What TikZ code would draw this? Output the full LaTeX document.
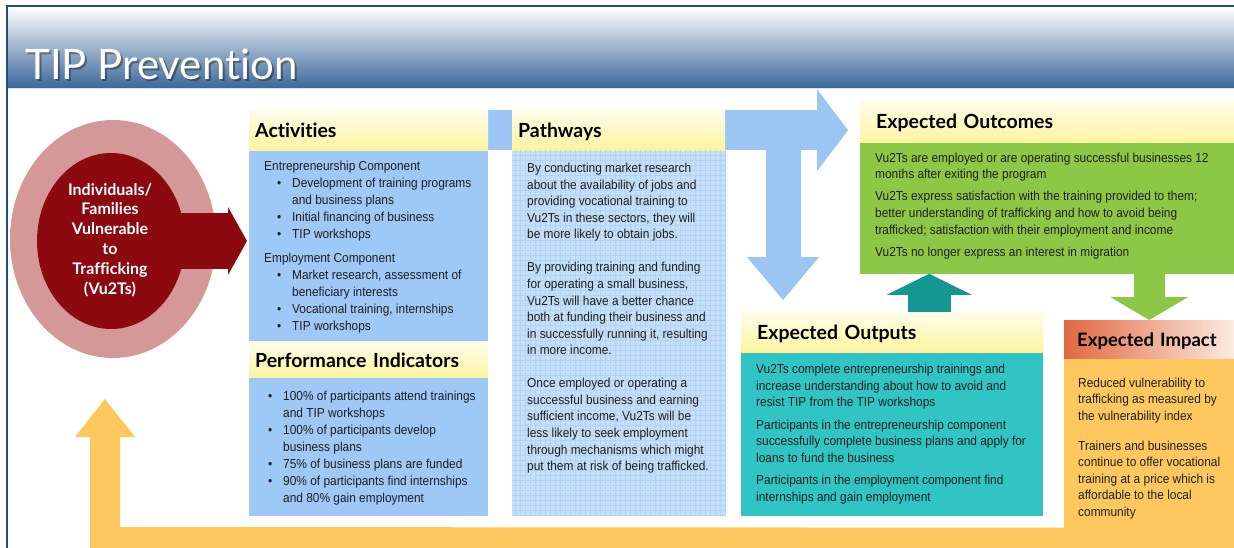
\documentclass[tikz,border=0pt]{standalone}
\usepackage{fontspec}
\usepackage{tikz}
\usetikzlibrary{arrows.meta,positioning,calc,shapes.geometric,backgrounds}

\setmainfont{Liberation Sans}
\newfontfamily\bodyfont[FakeStretch=0.915]{Liberation Sans}
\newfontfamily\headfont[Ligatures={NoCommon}]{Lato}

\definecolor{frameblue}{RGB}{31,77,138}
\definecolor{bandblue}{RGB}{60,104,153}
\definecolor{bandmid}{RGB}{200,208,220}
\definecolor{bandline}{RGB}{214,226,238}
\definecolor{boxblue}{RGB}{158,200,245}
\definecolor{pathblue}{RGB}{198,223,249}
\definecolor{gridblue}{RGB}{178,211,243}
\definecolor{arrowblue}{RGB}{155,198,244}
\definecolor{headyellow}{RGB}{253,244,160}
\definecolor{headlight}{RGB}{255,253,234}
\definecolor{outgreen}{RGB}{140,200,70}
\definecolor{outteal}{RGB}{48,196,196}
\definecolor{darkteal}{RGB}{20,150,145}
\definecolor{impyellow}{RGB}{255,200,95}
\definecolor{impred}{RGB}{224,104,64}
\definecolor{imppale}{RGB}{252,236,228}
\definecolor{ringpink}{RGB}{212,152,152}
\definecolor{vulred}{RGB}{140,10,15}

\newcommand\bitem[1]{\makebox[28pt][r]{\textbullet\hspace{11pt}}#1}
\newcommand\bcont[1]{\hspace*{28pt}#1}

\begin{document}
\begin{tikzpicture}[x=1pt, y=-1pt,
    head/.style={anchor=north west, inner ysep=0pt, align=left, text height=16pt, text depth=1pt,
        font=\headfont\bfseries\fontsize{19.5}{21}\selectfont, top color=headlight, bottom color=headyellow},
    panel/.style={anchor=north, inner sep=0pt, minimum width=#1},
    txt/.style={anchor=north west, inner sep=0pt, align=left, text=black!88,
        font=\bodyfont\fontsize{13}{#1}\selectfont, execute at begin node={\rule{0pt}{12pt}}},
    title/.style={anchor=base west, inner sep=0pt, font=\headfont\fontsize{42}{46}\selectfont},
    blockarrow/.style n args={3}{line width=#1, -{Triangle[length=#2,width=#3,line width=0pt]}}]
    \useasboundingbox (0,0) rectangle (1234,548);

    % title band
    \begin{scope}[on background layer]
        \fill[white] (0,0) rectangle (1234,548);
        \shade[top color=white, middle color=bandmid, bottom color=bandblue] (7,7) rectangle (1234,88);
        \draw[bandline, line width=1.5pt] (7,88.5) -- (1234,88.5);
    \end{scope}
    \draw[frameblue, line width=2.5pt] (7,548) -- (7,6) -- (1234,6);
    \node[title, text=black, opacity=0.35] (ttlshadow) at (27,82) {TIP Prevention};
    \node[title, text=white] (ttl) at (25,80) {TIP Prevention};

    % activities and indicators
    \node[head, text width=227pt, inner xsep=6pt, minimum height=40pt] (acth) at (249,110) {Activities};
    \node[panel=239pt, fill=boxblue, minimum height=190pt, below=0pt of acth] (actb) {};
    \node[head, text width=227pt, inner xsep=6pt, minimum height=37pt, below=0pt of actb] (perfh) {Performance Indicators};
    \node[panel=239pt, fill=boxblue, minimum height=138pt, below=0pt of perfh] (perfb) {};

    % pathways
    \node[head, text width=201pt, inner xsep=6pt, minimum height=40pt] (pathh) at (512,110) {Pathways};
    \node[panel=213pt, fill=pathblue, minimum height=365pt, below=0pt of pathh] (pathb) {};
    \draw[gridblue, line width=0.4pt] (pathb.south west) grid[step=5pt] (pathb.north east);

    % outcomes, outputs, impact
    \node[head, text width=342pt, inner xsep=16pt, minimum height=42pt] (outch) at (860,100) {Expected Outcomes};
    \node[panel=374pt, fill=outgreen, minimum height=131pt, below=0pt of outch] (outcb) {};
    \node[head, text width=270pt, inner xsep=16pt, minimum height=40pt] (outh) at (741,312) {Expected Outputs};
    \node[panel=302pt, fill=outteal, minimum height=163pt, below=0pt of outh] (outb) {};
    \node[head, text width=152pt, inner xsep=9pt, minimum height=38pt, font=\headfont\bfseries\fontsize{18.5}{20}\selectfont,
        left color=impred, right color=imppale] (imph) at (1064,320) {\hspace*{4pt}Expected Impact};
    \node[panel=170pt, fill=impyellow, minimum height=169pt, below=0pt of imph] (impb) {};

    % box texts
    \node[txt=17] (actt) at ([shift={(15,10)}]actb.north west) {Entrepreneurship Component\\
        \bitem{Development of training programs}\\ \bcont{and business plans}\\
        \bitem{Initial financing of business}\\ \bitem{TIP workshops}\\[7pt]
        Employment Component\\
        \bitem{Market research, assessment of}\\ \bcont{beneficiary interests}\\
        \bitem{Vocational training, internships}\\ \bitem{TIP workshops}};
    \node[txt=17] (perft) at ([shift={(6,12.5)}]perfb.north west) {\bitem{100\% of participants attend trainings}\\
        \bcont{and TIP workshops}\\ \bitem{100\% of participants develop}\\ \bcont{business plans}\\
        \bitem{75\% of business plans are funded}\\ \bitem{90\% of participants find internships}\\
        \bcont{and 80\% gain employment}};
    \node[txt=16.56] (patht) at ([shift={(15,12.5)}]pathb.north west) {By conducting market research\\
        about the availability of jobs and\\ providing vocational training to\\
        Vu2Ts in these sectors, they will\\ be more likely to obtain jobs.\\[16.56pt]
        By providing training and funding\\ for operating a small business,\\
        Vu2Ts will have a better chance\\ both at funding their business and\\
        in successfully running it, resulting\\ in more income.\\[16.56pt]
        Once employed or operating a\\ successful business and earning\\
        sufficient income, Vu2Ts will be\\ less likely to seek employment\\
        through mechanisms which might\\ put them at risk of being trafficked.};
    \node[txt=16.7] (outct) at ([shift={(15,10)}]outcb.north west) {Vu2Ts are employed or are operating successful businesses 12\\
        months after exiting the program\\[5.5pt]
        Vu2Ts express satisfaction with the training provided to them;\\
        better understanding of trafficking and how to avoid being\\
        trafficked; satisfaction with their employment and income\\[5.5pt]
        Vu2Ts no longer express an interest in migration};
    \node[txt=16.7] (outt) at ([shift={(15,11.5)}]outb.north west) {Vu2Ts complete entrepreneurship trainings and\\
        increase understanding about how to avoid and\\ resist TIP from the TIP workshops\\[5.5pt]
        Participants in the entrepreneurship component\\
        successfully complete business plans and apply for\\ loans to fund the business\\[5.5pt]
        Participants in the employment component find\\ internships and gain employment};
    \node[txt=16.5] (impt) at ([shift={(14,19)}]impb.north west) {Reduced vulnerability to\\
        trafficking as measured by\\ the vulnerability index\\[13.5pt]
        Trainers and businesses\\ continue to offer vocational\\ training at a price which is\\
        affordable to the local\\ community};

    % flow arrows behind the boxes
    \coordinate (tee) at (783,130);
    \coordinate (loopcorner) at (105,542);
    \coordinate (looptip) at (105,399);
    \begin{scope}[on background layer]
        \draw[arrowblue, blockarrow={40pt}{31pt}{82pt}] (acth.east) -- ([xshift=-12pt]acth.east -| outch.west);
        \draw[arrowblue, blockarrow={35pt}{43pt}{72pt}] (tee) -- ([yshift=12pt]tee |- outh.north);
        \draw[impyellow, blockarrow={30pt}{38pt}{60pt}] ([shift={(0,15)}]impb.south east) -- (loopcorner) -- (looptip);
    \end{scope}
    \draw[darkteal, blockarrow={43pt}{21pt}{85pt}] ([xshift=37pt]outh.north) -- ([xshift=37pt]outh.north |- outcb.south);
    \draw[outgreen, blockarrow={31pt}{23pt}{78pt}] (outcb.south -| imph.north) -- (imph.north);

    % vulnerable group
    \node[ellipse, fill=ringpink, inner sep=0pt, minimum width=206pt, minimum height=238pt] (ring) at (113,239) {};
    \node[ellipse, fill=vulred, inner sep=0pt, minimum width=148pt, minimum height=176pt] (vul) at (111,241) {};
    \draw[vulred, blockarrow={55pt}{19pt}{68pt}] (vul.center) -- ([xshift=-2pt]vul.center -| acth.west);
    \node[align=center, text=white, font=\headfont\bfseries\fontsize{16}{19.8}\selectfont] (vultxt) at (110,240)
        {Individuals/\\Families\\Vulnerable\\to\\Trafficking\\(Vu2Ts)};
\end{tikzpicture}
\end{document}
